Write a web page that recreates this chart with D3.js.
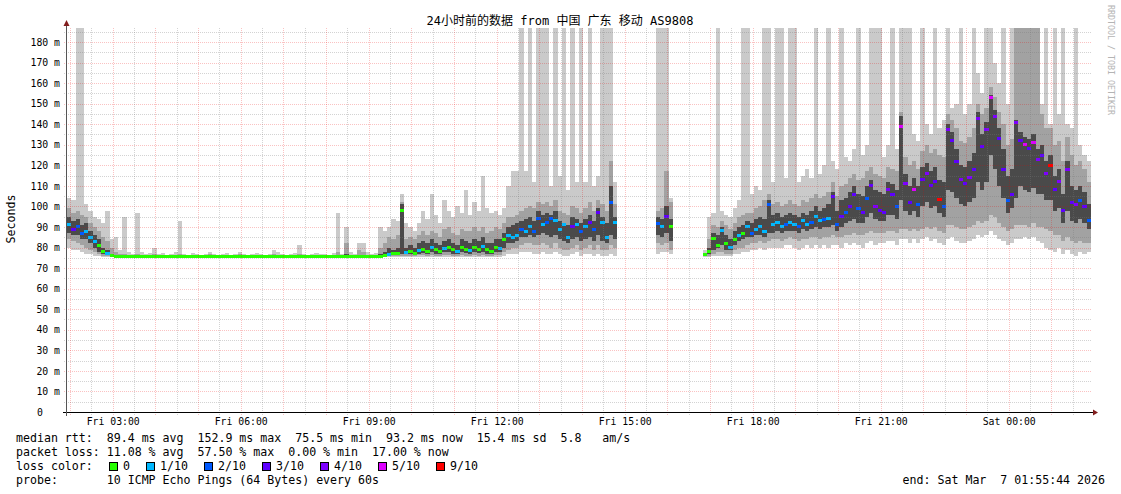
<!DOCTYPE html>
<html><head><meta charset="utf-8">
<script src="https://cdn.jsdelivr.net/npm/d3@7"></script>
<style>
body{margin:0;background:#fff;}
text{font-family:"DejaVu Sans Mono",monospace;}
</style>
</head><body>
<svg id="c" width="1121" height="494"></svg>
<script>
// ---------------- DATA (6-minute consolidated steps, 240 steps over 24h) ----------------
const titleText = "24小时前的数据 from 中国 广东 移动 AS9808";
const xTickLabels = ["Fri 03:00","Fri 06:00","Fri 09:00","Fri 12:00","Fri 15:00","Fri 18:00","Fri 21:00","Sat 00:00"];
const yTickValues = [0,10,20,30,40,50,60,70,80,90,100,110,120,130,140,150,160,170,180];
const lossLabels = ["0","1/10","2/10","3/10","4/10","5/10","9/10"];
const lossColors = ["#26ff00","#00b8ff","#0059ff","#5e00ff","#7e00ff","#dd00ff","#ff0000"];
const lossBreaks = [1,2,3,4,5,9];

// median rtt (ms)
const med = [
91,89,90,87,88,85,83,81,78,77,
76,75.8,75.6,75.6,75.7,75.6,75.6,75.6,75.6,75.6,
75.7,75.6,75.6,75.6,75.6,75.6,75.7,75.6,75.6,75.6,
75.6,75.6,75.6,75.6,75.6,75.6,75.6,75.6,75.6,75.6,
75.6,75.6,75.6,75.6,75.6,75.6,75.6,75.6,75.6,75.6,
75.6,75.6,75.6,75.6,75.6,75.6,75.6,75.6,75.6,75.6,
75.6,75.6,75.6,75.6,75.7,75.6,75.6,75.6,75.6,75.6,
75.6,75.6,75.6,75.8,76,76.5,77,77,98,77.5,
78,77,78.5,79,78,80,79,78,79.5,80,
79,78,80,79,78.5,80,79,80.5,79,78,
80,79.5,84,86,85,86,89,88,90,88,
94,91,92,94,93,89,91,85,90,91,
88,90,92,89,97,92,85,102,92,null,
null,null,null,null,null,null,null,null,91.5,90,
95,90,null,null,null,null,null,null,null,76.4,
78,84.5,81,88.5,82,80,84,86,87,90,
87,89,90,88,101,91,92,90,91,92,
91,90,93,91,92,95,93,93.5,94,105,
91,95,97,100,106,99,97,104,110,100,
98,97,108,106,100,139,111,102,108,101,
113,116,110,112,103.5,100,137.5,132,122,113,
111,114,118,143,129,137.5,152.9,143.7,133,118,
103,106,141,132,130,128,131,123,125,116,
120,108,112,98,118,102,101,103,100,93.2];

// lost pings out of 10
const loss = [
1,3,2,2,1,1,1,0,0,1,
0,0,0,0,0,0,0,0,0,0,
0,0,0,0,0,0,0,0,0,0,
0,0,0,0,0,0,0,0,0,0,
0,0,0,0,0,0,0,0,0,0,
0,0,0,0,0,0,0,0,0,0,
0,0,0,0,0,0,0,0,0,0,
0,0,0,0,0,1,0,0,0,1,
0,0,1,0,0,1,0,0,1,0,
0,1,0,0,1,0,0,1,0,0,
0,1,0,1,1,1,2,1,1,2,
2,1,2,2,1,1,1,1,3,1,
2,1,3,2,3,1,1,2,1,null,
null,null,null,null,null,null,null,null,2,1,
3,0,null,null,null,null,null,null,null,0,
0,0,0,1,0,1,0,1,0,1,
2,1,1,1,2,1,1,1,2,1,
1,2,1,1,2,1,1,2,1,3,
2,3,2,3,3,2,3,2,3,4,
3,3,4,3,2,5,4,3,5,2,
3,4,3,3,9,2,4,3,3,4,
3,4,3,4,3,4,5,4,3,3,
2,3,4,3,5,3,5,4,3,4,
9,3,4,3,4,3,4,2,3,2];

// smoke: outer (min..max), middle (lo..hi), inner (dl..dh) in ms; 190 = beyond top
const mn = [
80,79,79,78,77,77,76,76,75.5,75.5,
75.3,75.3,75.3,75.3,75.3,75.3,75.3,75.3,75.3,75.3,
75.3,75.3,75.3,75.3,75.3,75.3,75.3,75.3,75.3,75.3,
75.3,75.3,75.3,75.3,75.3,75.3,75.3,75.3,75.3,75.3,
75.3,75.3,75.3,75.3,75.3,75.3,75.3,75.3,75.3,75.3,
75.3,75.3,75.3,75.3,75.3,75.3,75.3,75.3,75.3,75.3,
75.3,75.3,75.3,75.3,75.3,75.3,75.3,75.3,75.3,75.3,
75.3,75.3,75.3,75.3,75.3,75.5,75.5,75.5,75.5,75.5,
75.5,75.5,75.5,75.5,75.5,75.5,75.5,75.5,75.5,75.5,
75.5,75.5,75.5,75.5,75.5,75.5,75.5,75.5,75.5,75.5,
75.5,75.5,76,77,77,77,78,78,78,77,
77,78,77,77,78,77,76,76,77,78,
76,77,77,76,77,76,76,77,76,null,
null,null,null,null,null,null,null,null,77,78,
78,77,null,null,null,null,null,null,null,75.5,
75.5,76,76,76,76,76,77,77,78,78,
79,79,80,79,80,80,80,80,81,81,
80,79,80,81,80,81,80,81,80,81,
81,80,82,81,82,81,80,82,83,81,
82,82,83,83,81,84,84,82,84,82,
84,85,83,84,82,81,84,85,83,82,
82,83,84,86,85,86,88,86,84,83,
81,82,84,84,85,84,85,83,82,80,
79,78,80,77,79,77,76,78,77,78];

const lo = [
84,83,82,81,80,79,78,77,76,76,
75.5,75.4,75.4,75.4,75.4,75.4,75.4,75.4,75.4,75.4,
75.4,75.4,75.4,75.4,75.4,75.4,75.4,75.4,75.4,75.4,
75.4,75.4,75.4,75.4,75.4,75.4,75.4,75.4,75.4,75.4,
75.4,75.4,75.4,75.4,75.4,75.4,75.4,75.4,75.4,75.4,
75.4,75.4,75.4,75.4,75.4,75.4,75.4,75.4,75.4,75.4,
75.4,75.4,75.4,75.4,75.4,75.4,75.4,75.4,75.4,75.4,
75.4,75.4,75.4,75.5,75.6,76,76,76,76,76,
76,76,76.5,76.5,76,76.5,76,76,76.5,76.5,
76,76,76.5,76,76,76.5,76,76.5,76,76,
76.5,76.5,78,79,80,80,81,82,82,81,
81,82,81,80,82,80,79,79,80,81,
79,80,81,79,81,79,79,81,80,null,
null,null,null,null,null,null,null,null,82,81,
82,79,null,null,null,null,null,null,null,75.8,
76,77,78,78,77,77,79,80,80,81,
82,82,83,82,83,84,84,83,84,85,
84,83,84,84,85,85,84,85,85,86,
85,85,86,86,87,86,86,87,88,87,
87,87,88,88,87,89,89,88,89,88,
89,90,89,90,88,87,91,91,90,89,
89,90,91,93,92,93,96,95,92,90,
88,89,91,91,91,90,92,90,90,89,
88,86,86,83,85,83,82,83,82,82];

const dl = [
87,86,86,84,84,82,80,78,77,76.5,
75.8,75.6,75.5,75.5,75.5,75.5,75.5,75.5,75.5,75.5,
75.5,75.5,75.5,75.5,75.5,75.5,75.5,75.5,75.5,75.5,
75.5,75.5,75.5,75.5,75.5,75.5,75.5,75.5,75.5,75.5,
75.5,75.5,75.5,75.5,75.5,75.5,75.5,75.5,75.5,75.5,
75.5,75.5,75.5,75.5,75.5,75.5,75.5,75.5,75.5,75.5,
75.5,75.5,75.5,75.5,75.5,75.5,75.5,75.5,75.5,75.5,
75.5,75.5,75.5,75.6,75.8,76.5,76.5,76.5,77,77,
77,76.5,77,77.5,77,78,77,77,78,78,
77,77,78,77.5,77,78,77.5,78,77,77,
78,78,80,82,82,83,85,85,86,85,
86,87,86,85,86,84,83,82,84,85,
83,84,85,83,86,83,82,86,84,null,
null,null,null,null,null,null,null,null,86,85,
87,83,null,null,null,null,null,null,null,76,
77,79,80,81,79,79,81,83,84,85,
85,86,86,85,87,87,88,87,88,88,
88,87,89,88,89,90,89,90,90,91,
88,90,92,93,94,92,92,95,97,94,
93,93,96,96,94,103,98,96,98,95,
100,102,99,100,97,95,108,107,104,101,
100,102,104,112,108,112,125,118,110,104,
97,99,104,110,108,107,109,106,106,103,
103,98,99,92,98,93,92,94,92,89];

const dh = [
95,93,94,91,92,88,86,84,80,79,
77,76.5,76,76,75.9,75.9,75.9,75.9,75.9,75.9,
75.9,75.9,75.9,75.9,75.9,75.9,75.9,75.9,75.9,75.9,
75.9,75.9,75.9,75.9,75.9,75.9,75.9,75.9,75.9,75.9,
75.9,75.9,75.9,75.9,75.9,75.9,75.9,75.9,75.9,75.9,
75.9,75.9,75.9,75.9,75.9,75.9,75.9,75.9,75.9,75.9,
75.9,75.9,75.9,76.5,75.9,77,75.9,75.9,76.5,76.5,
75.9,75.9,75.9,77,78,80,79,80,101,80,
81,80,82,83,82,84,82,81,83,84,
82,81,84,83,82,84,83,85,82,82,
84,84,87,90,91,92,93,94,95,93,
98,96,97,96,98,93,92,91,95,94,
92,94,96,93,99,95,92,110,95,null,
null,null,null,null,null,null,null,null,95,94,
100,94,null,null,null,null,null,null,null,76.8,
80,87,86,90,86,84,88,90,91,93,
92,94,95,94,103,96,97,95,96,97,
96,95,97,96,98,100,98,99,101,107,
98,103,104,107,110,106,105,110,113,108,
107,106,112,111,108,144,116,110,114,110,
119,121,117,119,113,112,140,136,128,120,
119,122,126,146,135,141,154,147,138,128,
115,118,142,136,134,133,135,128,130,122,
125,115,118,106,122,110,108,110,107,101];

const hi = [
99,97,98,96,95,92,90,88,85,83,
80,78,77,77,76.5,76.3,77,76.3,76.3,76.3,
77,76.3,76.3,76.3,76.3,76.3,77,76.3,76.3,76.3,
76.3,76.3,76.3,76.8,76.3,76.3,76.3,76.3,76.3,76.3,
76.8,76.3,76.3,76.3,76.3,76.3,76.3,76.3,77,76.3,
76.3,76.3,76.3,76.3,77,76.3,76.3,76.3,76.3,76.3,
76.3,76.3,76.3,78,76.3,82,76.5,76.3,79,78,
76.5,76.3,76.5,80,82,85,84,86,102,84,
85,84,86,88,86,88,87,85,89,90,
87,86,89,88,88,90,88,90,87,88,
90,89,92,95,95,96,98,99,100,99,
102,101,102,100,103,98,97,96,100,99,
97,99,102,98,103,101,98,122,101,null,
null,null,null,null,null,null,null,null,98,99,
117,102,null,null,null,null,null,null,null,77.5,
84,91,90,93,91,89,92,95,96,97,
97,99,100,103,106,101,102,100,101,103,
101,100,103,102,104,106,104,105,107,112,
105,110,111,114,116,113,114,117,119,116,
115,114,119,118,117,146,124,120,122,118,
127,130,126,128,125,124,145,142,138,132,
131,134,138,150,145,148,158,153,146,140,
130,133,190,190,190,190,190,190,145,138,
138,130,132,122,134,125,120,122,118,112];

const mx = [
104,103,190,190,101,98,95,94,92,98,
84,85,79,95,78,77,97,78,77,77.5,
80,77,77.5,76.5,77,78,93,77,76.5,77.5,
77,76.5,77,78,77,76.5,77,77.5,76.5,77,
78,77,76.5,77,77.5,77,76.5,77,79,78,
77,76.5,77,77.5,81,77,76.5,77,77.5,77,
77,76.5,77.5,97,77,90,78,77,82,82,
78,77,77.5,90,88,90,94,93,106,92,
90,88,92,98,94,106,96,92,103,98,
95,100,97,108,96,102,98,115,99,97,
98,96,99,110,117,117,190,117,190,112,
190,190,190,110,190,115,190,108,190,112,
190,112,190,110,115,190,190,190,112,null,
null,null,null,null,null,null,null,null,190,190,
190,104,null,null,null,null,null,null,null,79,
95,97,190,98,96,95,99,103,190,190,
106,110,108,190,190,112,190,190,114,190,
190,112,115,118,114,190,116,120,190,122,
118,190,124,122,128,190,125,130,190,190,
190,124,130,190,128,190,190,190,135,132,
190,140,135,190,138,142,190,148,150,190,
145,150,190,165,155,190,190,170,160,190,
150,190,190,190,190,190,190,190,150,190,
140,190,145,190,140,138,190,130,125,122];

const statsLine1 = "median rtt:  89.4 ms avg  152.9 ms max  75.5 ms min  93.2 ms now  15.4 ms sd  5.8   am/s";
const statsLine2 = "packet loss: 11.08 % avg  57.50 % max  0.00 % min  17.00 % now";
const probeLine = "probe:       10 ICMP Echo Pings (64 Bytes) every 60s";
const endLine = "end: Sat Mar  7 01:55:44 2026";

// ---------------- CHART ----------------
const svg = d3.select("#c");
const plotL = 67, plotR = 1091, plotT = 28, plotB = 412;
const stepMin = 6;
const tStart = new Date(2026, 2, 6, 1, 55, 44);
const tEnd = new Date(2026, 2, 7, 1, 55, 44);
const times = med.map((_, i) => d3.timeMinute.offset(tStart, i * stepMin));
const x = d3.scaleTime().domain([tStart, tEnd]).range([plotL, plotR]);
const y = d3.scaleLinear().domain([0, 186.8]).range([plotB, plotT]);
const lossColor = d3.scaleThreshold().domain(lossBreaks).range(lossColors);

const arrs = {med, loss, mn, lo, dl, dh, hi, mx};
for (const k in arrs) if (arrs[k].length !== 240) { svg.append("text").attr("x",300).attr("y",300).attr("fill","red").text(k+" len "+arrs[k].length); }

svg.append("rect").attr("width",1121).attr("height",494).attr("fill","#ffffff");
svg.append("defs").append("clipPath").attr("id","clip")
  .append("rect").attr("x",plotL).attr("y",plotT).attr("width",plotR-plotL).attr("height",plotB-plotT);

const idx = d3.range(med.length).filter(i => med[i] !== null);
const data = svg.append("g").attr("clip-path","url(#clip)").attr("shape-rendering","crispEdges");
const x0 = i => x(times[i]);
const x1 = i => x(d3.timeMinute.offset(times[i], stepMin));
function band(a, b, color){
  data.append("g").selectAll("rect").data(idx).join("rect")
    .attr("x", x0).attr("width", i => x1(i) - x0(i))
    .attr("y", i => y(b[i])).attr("height", i => Math.max(0, y(a[i]) - y(b[i])))
    .attr("fill", color);
}
band(mn, mx, "#cacaca");
band(lo, hi, "#a2a2a2");
band(dl, dh, "#4a4a4a");
data.append("g").selectAll("rect").data(idx).join("rect")
  .attr("x", x0).attr("width", i => x1(i) - x0(i))
  .attr("y", i => y(med[i]) - 1.5).attr("height", 3)
  .attr("fill", i => lossColor(loss[i]));

// grid (drawn over data like rrdtool)
const grid = svg.append("g");
const hMinor = d3.range(5, 186, 10), hMajor = d3.range(10, 181, 10);
const gridMinor = "rgba(120,120,120,0.33)", gridMajor = "rgba(235,0,0,0.24)";
grid.selectAll("line.hmin").data(hMinor).join("line")
  .attr("x1", plotL-3).attr("x2", plotR).attr("y1", d => Math.round(y(d))+0.5).attr("y2", d => Math.round(y(d))+0.5)
  .attr("stroke", gridMinor).attr("stroke-dasharray","1,1");
grid.selectAll("line.hmaj").data(hMajor).join("line")
  .attr("x1", plotL-3).attr("x2", plotR).attr("y1", d => Math.round(y(d))+0.5).attr("y2", d => Math.round(y(d))+0.5)
  .attr("stroke", gridMajor).attr("stroke-dasharray","1,1");
const vTimes = d3.timeMinute.every(30).range(tStart, tEnd);
grid.selectAll("line.v").data(vTimes).join("line")
  .attr("x1", d => Math.round(x(d))+0.5).attr("x2", d => Math.round(x(d))+0.5)
  .attr("y1", plotT).attr("y2", plotB+3)
  .attr("stroke", d => d.getMinutes() === 0 ? gridMajor : gridMinor)
  .attr("stroke-dasharray","1,1");

// axes lines
svg.append("line").attr("x1",63).attr("x2",1093).attr("y1",412.5).attr("y2",412.5).attr("stroke","#000");
svg.append("path").attr("d","M1093,409.5L1098,412.5L1093,415.5Z").attr("fill","#821e1e");
svg.append("line").attr("x1",66.5).attr("x2",66.5).attr("y1",416).attr("y2",25).attr("stroke","#555");
svg.append("path").attr("d","M63.5,26L66.5,20L69.5,26Z").attr("fill","#821e1e");

// y tick labels
const yAxis = svg.append("g").attr("transform",`translate(${plotL},0)`)
  .call(d3.axisLeft(y).tickValues(yTickValues).tickFormat(v => v === 0 ? "0" : v + " m").tickSize(0).tickPadding(7));
yAxis.select(".domain").remove();
yAxis.selectAll("text").attr("font-family","DejaVu Sans Mono").attr("font-size","9.8px").attr("fill","#000")
  .attr("dx", d => d === 0 ? -17 : 0);

// x tick labels
const labelTimes = d3.timeHour.every(3).range(tStart, tEnd);
const xAxis = svg.append("g").attr("transform",`translate(0,${plotB})`)
  .call(d3.axisBottom(x).tickValues(labelTimes).tickFormat((d, i) => xTickLabels[i]).tickSize(0).tickPadding(6));
xAxis.select(".domain").remove();
xAxis.selectAll("text").attr("font-family","DejaVu Sans Mono").attr("font-size","9.8px").attr("fill","#000");

// title & side labels
svg.append("text").attr("x",560).attr("y",25).attr("text-anchor","middle")
  .attr("font-size","12px").style("font-family","'DejaVu Sans Mono','Noto Sans CJK SC',monospace").text(titleText);
svg.append("text").attr("transform","translate(15,219) rotate(-90)").attr("text-anchor","middle")
  .attr("font-size","11.6px").text("Seconds");
svg.append("text").attr("transform","translate(1108,5) rotate(90)")
  .attr("font-size","8.3px").attr("fill","#b4b4b4").text("RRDTOOL / TOBI OETIKER");

// legend
const leg = svg.append("g").attr("font-size","11.6px").attr("fill","#000");
leg.append("text").attr("x",16).attr("y",442).attr("xml:space","preserve").style("white-space","pre").text(statsLine1);
leg.append("text").attr("x",16).attr("y",456).attr("xml:space","preserve").style("white-space","pre").text(statsLine2);
leg.append("text").attr("x",16).attr("y",470).attr("xml:space","preserve").style("white-space","pre").text("loss color:");
let bx = 109;
lossLabels.forEach((lab, k) => {
  leg.append("rect").attr("x",bx+0.5).attr("y",462.5).attr("width",8).attr("height",8)
    .attr("fill",lossColors[k]).attr("stroke","#000").attr("stroke-width",1);
  leg.append("text").attr("x",bx+14).attr("y",470).text(lab);
  bx += 14 + lab.length * 7 + 16;
});
leg.append("text").attr("x",16).attr("y",484).attr("xml:space","preserve").style("white-space","pre").text(probeLine);
leg.append("text").attr("x",1105).attr("y",484).attr("text-anchor","end").attr("xml:space","preserve").style("white-space","pre").text(endLine);
</script>
</body></html>
